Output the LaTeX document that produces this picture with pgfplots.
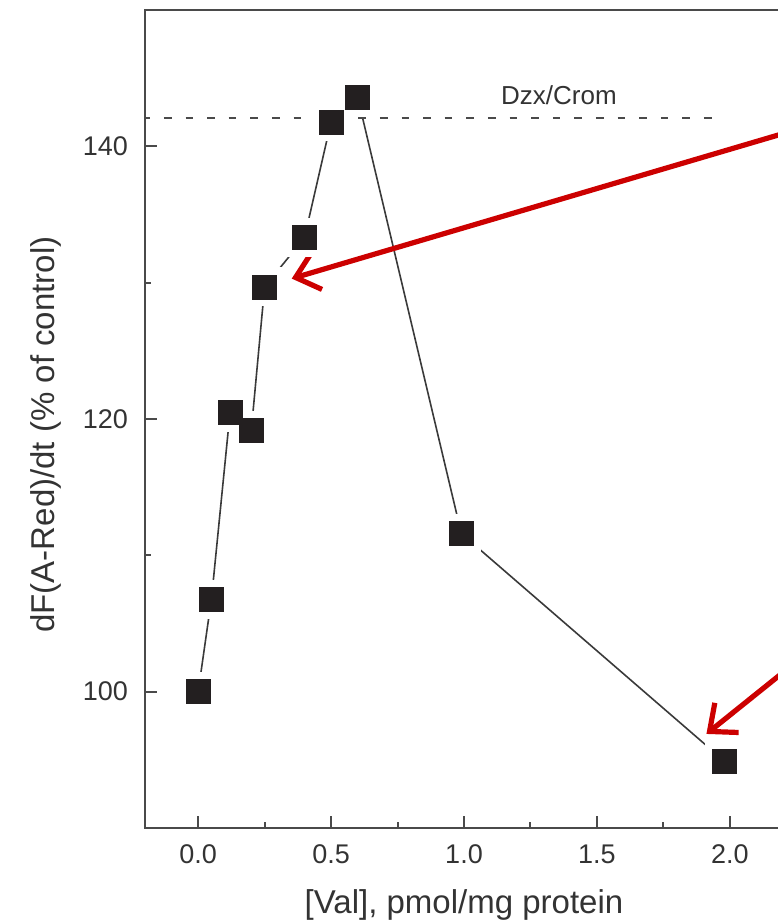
\documentclass[border=0pt]{standalone}
\usepackage{fontspec}
\setmainfont{Liberation Sans}
\usepackage{pgfplots}
\usepackage{pgfplotstable}
\pgfplotsset{compat=1.18}
\usetikzlibrary{arrows.meta}

\definecolor{axisgray}{HTML}{4A4A4A}
\definecolor{linegray}{HTML}{3A3A3A}
\definecolor{markblack}{HTML}{231F20}
\definecolor{arrowred}{HTML}{CC0000}
\definecolor{textgray}{HTML}{333333}

% rate of A-Red fluorescence change vs. [Val]
\pgfplotstableread{
x     y
0.00  100.0
0.05  106.8
0.12  120.5
0.20  119.2
0.25  129.7
0.40  133.3
0.50  141.8
0.60  143.6
0.99  111.6
1.98  94.9
}\valdata

\begin{document}
\begin{tikzpicture}
\begin{axis}[
  scale only axis,
  width=319pt, height=409pt,
  xmin=-0.2, xmax=2.2, ymin=90, ymax=150,
  xtick={0,0.5,1,1.5,2},
  ytick={100,120,140},
  minor xtick={0.25,0.75,1.25,1.75},
  minor ytick={110,130},
  tick align=inside, xtick pos=bottom, ytick pos=left,
  major tick length=6pt, minor tick length=3pt,
  every tick/.style={axisgray, line width=1pt},
  axis line style={axisgray, line width=1pt},
  /pgf/number format/assume math mode=true,
  ticklabel style={font=\fontsize{13.5}{16}\selectfont, text=textgray},
  xticklabel style={yshift=-5pt, /pgf/number format/.cd, fixed, fixed zerofill, precision=1},
  yticklabel style={xshift=-5pt},
  xlabel={[Val], pmol/mg protein},
  ylabel={dF(A-Red)/dt (\% of control)},
  label style={font=\fontsize{16.5}{19}\selectfont, text=textgray},
  xlabel style={at={(axis description cs:0.5,0)}, anchor=base, yshift=-42.5pt},
  ylabel style={at={(axis description cs:-0.155,0.481)}, anchor=center},
]
% connecting line
\addplot[linegray, line width=0.8pt, mark=none] table[x=x,y=y] {\valdata};
% white margin around each marker
\addplot[white, only marks, mark=square*, mark size=9.5pt, mark options={fill=white, draw=white}] table[x=x,y=y] {\valdata};
% reference level
\addplot[axisgray, line width=1pt, dash pattern=on 3.8pt off 7pt, mark=none]
  coordinates {(-0.21,142.1) (1.962,142.1)};
\node[anchor=base, font=\fontsize{13}{15}\selectfont, text=textgray] at (axis cs:1.357,143.1) {Dzx/Crom};
% markers
\addplot[markblack, only marks, mark=square*, mark size=6pt, mark options={fill=markblack, draw=markblack, line width=0.2pt}] table[x=x,y=y] {\valdata};
% annotation arrows
\draw[arrowred, line width=2.6pt, -{Straight Barb[length=11pt,width=19pt]}]
  (axis cs:2.25,141.22) -- (axis cs:0.352,130.3);
\draw[arrowred, line width=2.6pt, -{Straight Barb[length=11pt,width=19pt]}]
  (axis cs:2.25,102.19) -- (axis cs:1.912,96.9);
\coordinate (bl) at (rel axis cs:0,0);
\coordinate (tr) at (rel axis cs:1,1);
\end{axis}
\pgfresetboundingbox
\path[use as bounding box] ([xshift=-72.5pt,yshift=-48pt]bl) rectangle ([xshift=-3pt,yshift=5pt]tr);
\end{tikzpicture}
\end{document}
